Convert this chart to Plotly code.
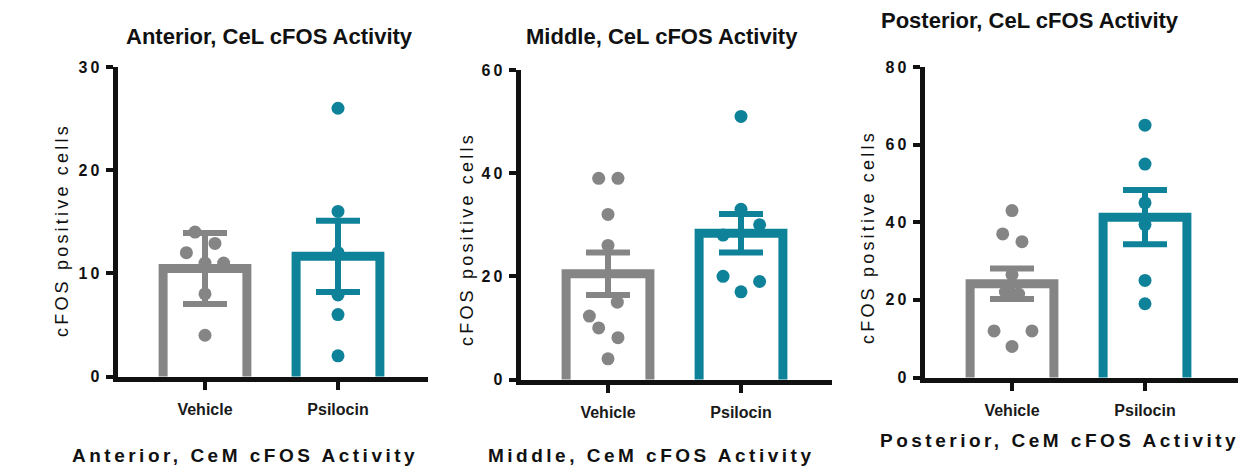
import plotly.graph_objects as go

OFF = 8                      # page body margin of the html page
W, H = 1246 - OFF, 467 - OFF

groups = ["Vehicle", "Psilocin"]
gray = "#858585"
teal = "#0E8299"

# Panel data
ant_veh = [14, 12.9, 12, 11, 11, 8, 4]
ant_veh_jit = [-0.075, 0.075, -0.14, 0, 0.14, 0, 0]
ant_psi = [26, 16, 12, 7.9, 6, 2]
ant_psi_jit = [0, 0, 0, 0, 0, 0]
ant_mean = [10.47, 11.65]
ant_err = [3.45, 3.45]

mid_veh = [39, 39, 32, 26, 15, 12.3, 10, 8.1, 4]
mid_veh_jit = [-0.07, 0.075, 0, 0, 0.07, -0.14, -0.07, 0.075, 0]
mid_psi = [51, 33, 30, 28, 20, 19, 17]
mid_psi_jit = [0, 0, 0.14, -0.135, -0.135, 0.14, 0]
mid_mean = [20.5, 28.35]
mid_err = [4.1, 3.75]

post_veh = [43, 37, 35, 26.5, 22, 21.5, 12, 12, 8]
post_veh_jit = [0, -0.07, 0.075, 0, -0.05, 0.05, -0.135, 0.15, 0]
post_psi = [65, 55, 45, 39.4, 25, 19]
post_psi_jit = [0, 0, 0, 0, 0, 0]
post_mean = [24.15, 41.3]
post_err = [3.95, 7.0]

top_titles = ["Anterior, CeL cFOS Activity", "Middle, CeL cFOS Activity", "Posterior, CeL cFOS Activity"]
bottom_titles = ["Anterior, CeM cFOS Activity", "Middle, CeM cFOS Activity", "Posterior, CeM cFOS Activity"]
ytitle = "cFOS positive cells"
y_max = [30, 60, 80]
y_dtick = [10, 20, 20]

panels = [
    (ant_veh, ant_veh_jit, ant_psi, ant_psi_jit, ant_mean, ant_err),
    (mid_veh, mid_veh_jit, mid_psi, mid_psi_jit, mid_mean, mid_err),
    (post_veh, post_veh_jit, post_psi, post_psi_jit, post_mean, post_err),
]

# screen-pixel layout of each panel's axis lines: (x_left, x_right, y_bottom, y_top)
px = [(115, 428, 379, 67), (518, 832, 382, 70), (922, 1238, 380, 67)]
ytitle_pos = [(62, 230), (467, 239), (868, 237)]
top_pos = [(269, 37, 22), (662, 37, 22), (1030, 20, 22)]
bot_pos = [(245, 455, 19), (651, 455, 19), (1059, 440, 19)]

FONT = "Liberation Sans, Arial"
ink = "#111111"
colors = [gray, teal]
LW = 5


def sx(x):
    return (x - OFF) / W


def sy(y):
    return 1 - (y - OFF) / H


def spaced(s, sp):
    return f'<span style="letter-spacing:{sp}px">{s}</span>'


fig = go.Figure()

for i, (veh, vj, psi, pj, mean, err) in enumerate(panels):
    xa = "x" if i == 0 else f"x{i+1}"
    ya = "y" if i == 0 else f"y{i+1}"
    xl, xr, yb, yt = px[i]
    pad = 9.0 * y_max[i] / (yb - yt)  # push hidden bottom outline below the axis
    for g in range(2):
        fig.add_trace(go.Bar(
            x=[g], y=[mean[g] + pad], base=[-pad], width=0.63, xaxis=xa, yaxis=ya,
            marker=dict(color="white", line=dict(color=colors[g], width=9)),
            error_y=dict(type="data", array=[err[g]], visible=True,
                         color=colors[g], thickness=6, width=22),
            showlegend=False, hoverinfo="skip"))
    for g, (vals, jit) in enumerate([(veh, vj), (psi, pj)]):
        fig.add_trace(go.Scatter(
            x=[g + j for j in jit], y=vals, mode="markers", xaxis=xa, yaxis=ya,
            marker=dict(color=colors[g], size=13, line=dict(width=0)),
            showlegend=False, hoverinfo="skip", cliponaxis=False))

layout = dict(
    width=W, height=H, margin=dict(l=0, r=0, t=0, b=0, autoexpand=False),
    paper_bgcolor="white", plot_bgcolor="white",
    font=dict(family=FONT, color=ink),
    barmode="overlay",
)
annotations = []
for i in range(3):
    xl, xr, yb, yt = px[i]
    sfx = "" if i == 0 else str(i + 1)
    dl = xl + LW / 2        # domain edges (axis lines are drawn just outside)
    db = yb - LW / 2
    cw = 133.0
    vcenter = xl + 90
    r0 = (dl - vcenter) / cw
    r1 = (xr - vcenter) / cw
    yticks = list(range(0, y_max[i] + 1, y_dtick[i]))
    layout["xaxis" + sfx] = dict(
        domain=[sx(dl), sx(xr)], range=[r0, r1], anchor="y" + sfx, automargin=False,
        showline=True, linecolor=ink, linewidth=LW, showgrid=False, zeroline=False,
        tickvals=[0, 1], ticktext=groups, ticks="outside", ticklen=8, tickwidth=4,
        tickcolor=ink, tickfont=dict(size=16, color="#1a1a1a", family=FONT, weight="bold"),
        ticklabelstandoff=6, fixedrange=True)
    layout["yaxis" + sfx] = dict(
        domain=[sy(db), sy(yt)], range=[0, y_max[i]], anchor="x" + sfx, automargin=False,
        showline=True, linecolor=ink, linewidth=LW, showgrid=False, zeroline=False,
        tickvals=yticks, ticktext=[spaced(str(v), 3) for v in yticks],
        ticks="outside", ticklen=7, tickwidth=4,
        tickcolor=ink, tickfont=dict(size=16, color=ink, family=FONT, weight="bold"),
        fixedrange=True)
    yx, yy = ytitle_pos[i]
    annotations.append(dict(
        text=spaced(ytitle, 3.2), xref="paper", yref="paper", x=sx(yx),
        y=sy(yy), textangle=-90, showarrow=False,
        xanchor="center", yanchor="middle",
        font=dict(size=18, color=ink, family=FONT)))
    tx, ty, ts = top_pos[i]
    annotations.append(dict(
        text=f"<b>{top_titles[i]}</b>", xref="paper", yref="paper", x=sx(tx), y=sy(ty),
        showarrow=False, xanchor="center", yanchor="middle",
        font=dict(size=ts, color=ink, family=FONT)))
    bx, by, bs = bot_pos[i]
    annotations.append(dict(
        text="<b>" + spaced(bottom_titles[i], 3.5) + "</b>", xref="paper", yref="paper",
        x=sx(bx), y=sy(by),
        showarrow=False, xanchor="center", yanchor="middle",
        font=dict(size=bs, color=ink, family=FONT)))

layout["annotations"] = annotations
fig.update_layout(**layout)
fig.write_html("out.html")
